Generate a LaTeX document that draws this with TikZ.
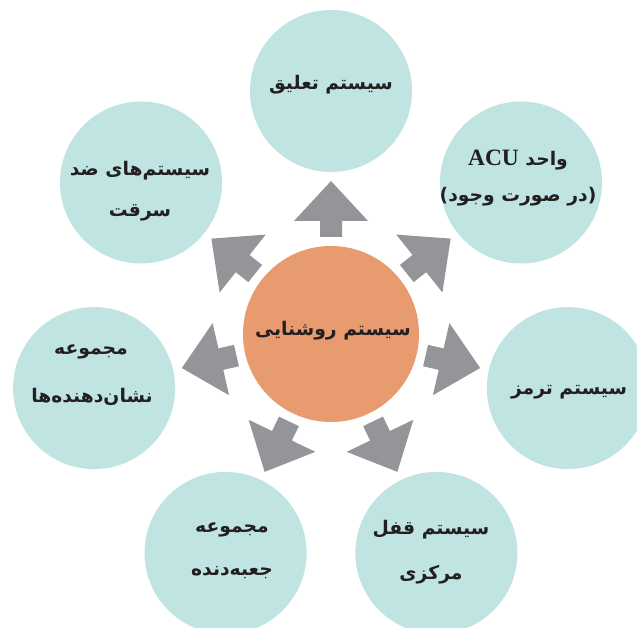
\documentclass[tikz,border=0pt]{standalone}
\usepackage{fontspec}
\newfontfamily\fa[Script=Arabic]{DejaVu Sans}
\newfontfamily\lat{Liberation Serif}
\TeXXeTstate=1
\definecolor{satfill}{HTML}{BFE4E1}
\definecolor{hubfill}{HTML}{E89B6E}
\definecolor{arrgray}{HTML}{939599}
\definecolor{txt}{HTML}{231F20}
\tikzset{
  sat/.style={circle,fill=satfill,minimum size=4.86cm,inner sep=0pt},
  hub/.style={circle,fill=hubfill,minimum size=5.28cm,inner sep=0pt},
  lbl/.style={text=txt,font=\fa\bfseries\fontsize{16}{18}\selectfont,inner sep=0pt},
  blockarrow/.style={fill=arrgray}
}
\begin{document}
\begin{tikzpicture}[x=0.03cm,y=0.03cm]
\clip (0,0) rectangle (637,628);
\fill[white] (0,0) rectangle (637,628);
\coordinate (C) at (331,294);
\node[hub] (hub) at (C) {};
\foreach \a/\n in {90/t, 38.57/tr, -12.86/r, -64.29/br, -115.71/bl, -167.14/l, 141.43/tl} {
  \node[sat] (\n) at ([shift={(\a:243)}]C) {};
  \begin{scope}[shift={(C)},rotate=\a]
    \fill[blockarrow] (97,-11) -- (113,-11) -- (113,-37) -- (153,0) -- (113,37) -- (113,11) -- (97,11) -- cycle;
  \end{scope}
}
\node[lbl] (hubtxt) at (333,297) {\beginR سیستم روشنایی\endR};
\node[lbl] (ttxt) at (331,543) {\beginR سیستم تعلیق\endR};
\node[lbl] (trtxt1) at (518,468) {\beginR واحد \beginL{\lat\bfseries\fontsize{20}{22}\selectfont ACU}\endL\endR};
\node[lbl] (trtxt2) at (518,431) {\beginR (در صورت وجود)\endR};
\node[lbl] (rtxt) at (569,236) {\beginR سیستم ترمز\endR};
\node[lbl] (brtxt1) at (431,98) {\beginR سیستم قفل\endR};
\node[lbl] (brtxt2) at (431,53) {\beginR مرکزی\endR};
\node[lbl] (bltxt1) at (232,98) {\beginR مجموعه\endR};
\node[lbl] (bltxt2) at (232,55) {\beginR جعبه^^^^200cدنده\endR};
\node[lbl] (ltxt1) at (91,276) {\beginR مجموعه\endR};
\node[lbl] (ltxt2) at (92,231) {\beginR نشان^^^^200cدهنده^^^^200cها\endR};
\node[lbl] (tltxt1) at (140,457) {\beginR سیستم^^^^200cهای ضد\endR};
\node[lbl] (tltxt2) at (140,415) {\beginR سرقت\endR};
\end{tikzpicture}
\end{document}
